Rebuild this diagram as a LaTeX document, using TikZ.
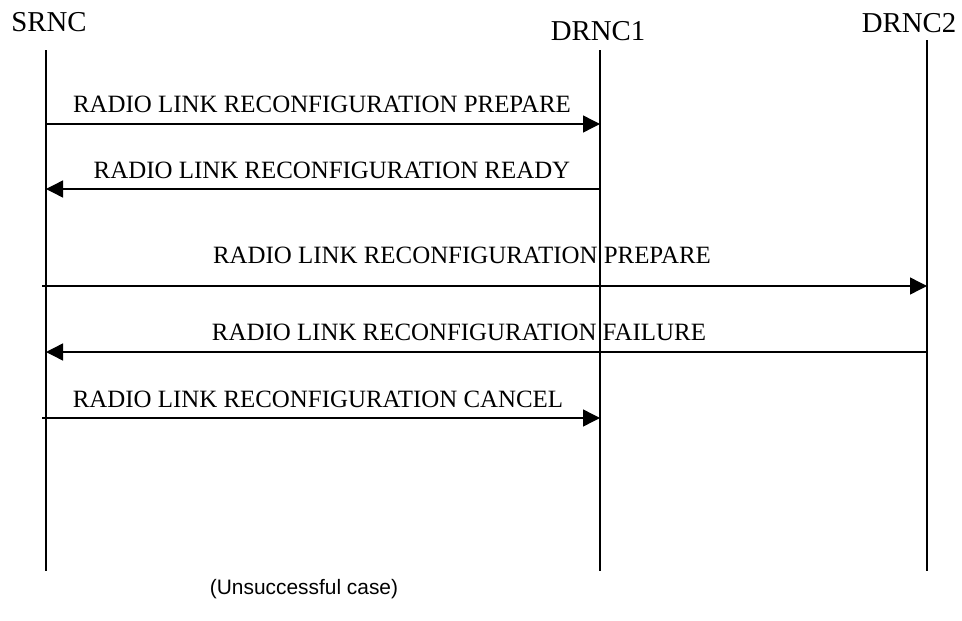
\documentclass[tikz,border=0pt]{standalone}
\usepackage{fontspec}
\setmainfont{Liberation Serif}
\newfontfamily\capfont{Liberation Sans}
\usetikzlibrary{arrows.meta}
\begin{document}
\begin{tikzpicture}[x=1pt,y=-1pt,
  life/.style={line width=1.4pt},
  msg/.style={line width=1.4pt,-{Triangle[length=17pt,width=17pt]}},
  head/.style={font=\fontsize{28.8}{30}\selectfont,anchor=base,inner sep=0pt},
  lbl/.style={font=\fontsize{24.9}{26}\selectfont,anchor=base,inner sep=0pt}]
\useasboundingbox (0,0) rectangle (962,621);
% headers
\node[head] (srnc) at (49,31) {SRNC};
\node[head] (drnc1) at (598,40) {DRNC1};
\node[head] (drnc2) at (909,32) {DRNC2};
% lifelines
\coordinate (s0) at (46,50);  \coordinate (s1) at (46,571);
\coordinate (d0) at (600,50); \coordinate (d1) at (600,571);
\coordinate (e0) at (927,40); \coordinate (e1) at (927,571);
\draw[life] (s0) -- (s1);
\draw[life] (d0) -- (d1);
\draw[life] (e0) -- (e1);
% message end points
\coordinate (m1a) at (46,124);  \coordinate (m1b) at (600,124);
\coordinate (m2a) at (600,189); \coordinate (m2b) at (46,189);
\coordinate (m3a) at (42,286);  \coordinate (m3b) at (927,286);
\coordinate (m4a) at (927,352); \coordinate (m4b) at (46,352);
\coordinate (m5a) at (42,418);  \coordinate (m5b) at (600,418);
\draw[msg] (m1a) -- (m1b);
\draw[msg] (m2a) -- (m2b);
\draw[msg] (m3a) -- (m3b);
\draw[msg] (m4a) -- (m4b);
\draw[msg] (m5a) -- (m5b);
% labels
\node[lbl] (l1) at (322,112) {RADIO LINK RECONFIGURATION PREPARE};
\node[lbl] (l2) at (332,178) {RADIO LINK RECONFIGURATION READY};
\node[lbl] (l3) at (462,263) {RADIO LINK RECONFIGURATION PREPARE};
\node[lbl] (l4) at (459,340) {RADIO LINK RECONFIGURATION FAILURE};
\node[lbl] (l5) at (318,407) {RADIO LINK RECONFIGURATION CANCEL};
% caption
\node[font=\capfont\fontsize{20.9}{23}\selectfont,anchor=base,inner sep=0pt] (cap) at (304,594) {(Unsuccessful case)};
\end{tikzpicture}
\end{document}
